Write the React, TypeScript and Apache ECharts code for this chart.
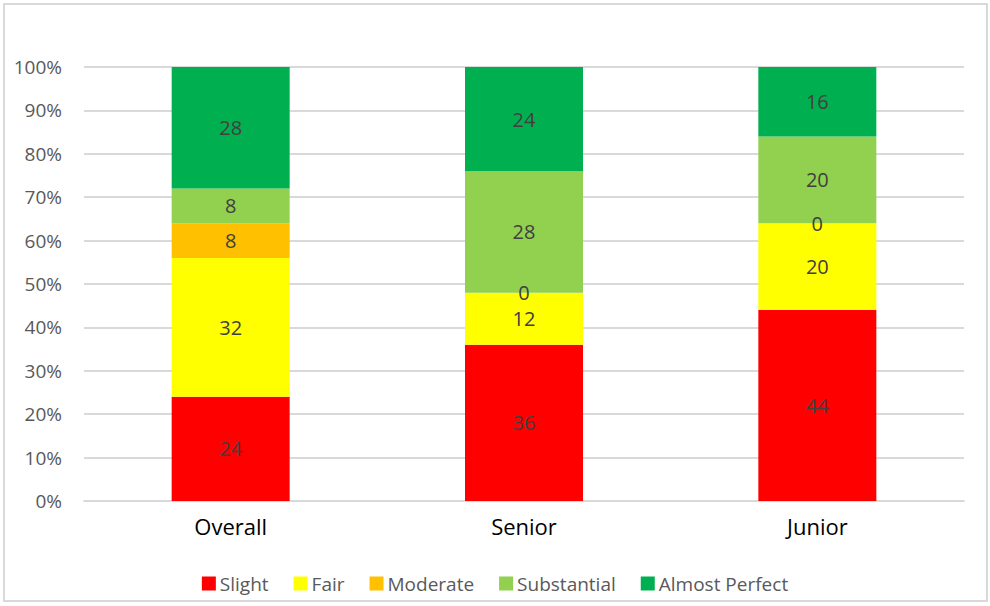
import React, { useEffect, useRef } from "react";
import * as echarts from "echarts";

const categories = ["Overall", "Senior", "Junior"];
const seriesNames = ["Slight", "Fair", "Moderate", "Substantial", "Almost Perfect"];
const slight = [24, 36, 44];
const fair = [32, 12, 20];
const moderate = [8, 0, 0];
const substantial = [8, 28, 20];
const almostPerfect = [28, 24, 16];
const colors = ["#FF0000", "#FFFF00", "#FFC000", "#92D050", "#00B050"];
const yTicks = [0, 10, 20, 30, 40, 50, 60, 70, 80, 90, 100];

export default function App() {
  const ref = useRef<HTMLDivElement>(null);
  useEffect(() => {
    if (!ref.current) return;
    const chart = echarts.init(ref.current, undefined, { renderer: "svg" });
    const values = [slight, fair, moderate, substantial, almostPerfect];
    const font = "'Open Sans', Lato, sans-serif";
    chart.setOption({
      animation: false,
      textStyle: { fontFamily: font },
      graphic: [
        {
          type: "rect",
          shape: { x: 4, y: 4, width: 983, height: 597 },
          style: { fill: "none", stroke: "#d9d9d9", lineWidth: 2 },
          silent: true,
        },
      ],
      grid: { left: 84, right: 26, top: 67, bottom: 105, containLabel: false },
      legend: {
        bottom: 8,
        left: "center",
        itemWidth: 14,
        itemHeight: 14,
        itemGap: 25,
        icon: "rect",
        textStyle: { color: "#595959", fontSize: 19, fontFamily: font, padding: [0, 0, 0, -1] },
        data: seriesNames,
      },
      xAxis: {
        type: "category",
        data: categories,
        axisLine: { show: true, lineStyle: { color: "#d9d9d9", width: 2 } },
        axisTick: { show: false },
        axisLabel: { color: "#000000", fontSize: 22, margin: 14, fontFamily: font },
      },
      yAxis: {
        type: "value",
        min: 0,
        max: 100,
        interval: 10,
        axisLine: { show: false },
        axisTick: { show: false },
        splitLine: { lineStyle: { color: "#d9d9d9", width: 2 } },
        axisLabel: {
          color: "#595959",
          fontSize: 19,
          margin: 22,
          fontFamily: font,
          formatter: (v: number) => (yTicks.includes(v) ? v + "%" : ""),
        },
      },
      series: seriesNames.map((name, i) => ({
        name,
        type: "bar",
        stack: "total",
        barWidth: 118,
        data: values[i],
        itemStyle: { color: colors[i] },
        label: {
          show: true,
          position: "inside",
          color: "#404040",
          fontSize: 20,
          fontFamily: font,
          formatter: (p: any) => String(p.value),
        },
      })),
    });
    return () => chart.dispose();
  }, []);
  return (
    <div
      ref={ref}
      style={{ position: "fixed", left: 0, top: 0, width: 990, height: 606, background: "#fff" }}
    />
  );
}
